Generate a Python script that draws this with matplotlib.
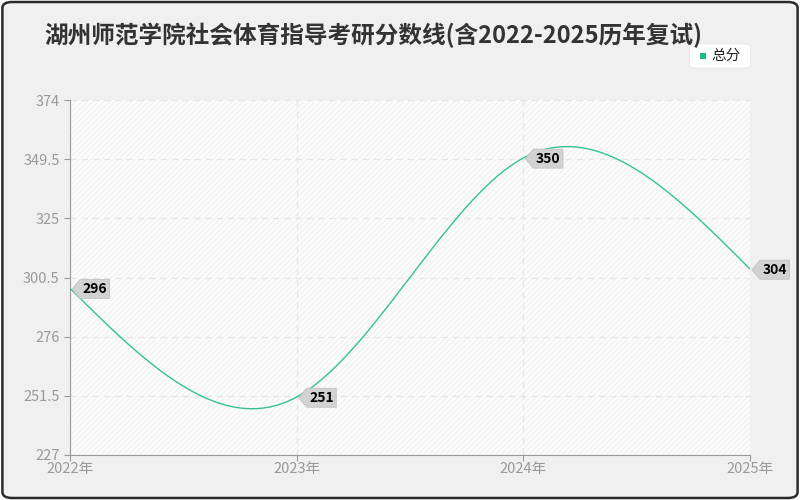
import numpy as np
import matplotlib
matplotlib.use('Agg')
import matplotlib.pyplot as plt
import matplotlib.patches as patches
from matplotlib.path import Path

plt.rcParams['font.family'] = ['Noto Sans CJK SC', 'DejaVu Sans']

# 数据
years = [2022, 2023, 2024, 2025]
scores = [296, 251, 350, 304]
year_labels = ['2022年', '2023年', '2024年', '2025年']
y_ticks = [227, 251.5, 276, 300.5, 325, 349.5, 374]
y_tick_labels = ['227', '251.5', '276', '300.5', '325', '349.5', '374']
title = '湖州师范学院社会体育指导考研分数线(含2022-2025历年复试)'
series_name = '总分'
line_color = '#35c28f'


def natural_spline(x, y, n=300):
    # 自然三次样条插值
    x = np.asarray(x, float)
    y = np.asarray(y, float)
    k = len(x)
    h = np.diff(x)
    A = np.zeros((k, k))
    r = np.zeros(k)
    A[0, 0] = A[-1, -1] = 1
    for i in range(1, k - 1):
        A[i, i - 1] = h[i - 1]
        A[i, i] = 2 * (h[i - 1] + h[i])
        A[i, i + 1] = h[i]
        r[i] = 6 * ((y[i + 1] - y[i]) / h[i] - (y[i] - y[i - 1]) / h[i - 1])
    M = np.linalg.solve(A, r)
    xs = np.linspace(x[0], x[-1], n)
    ys = np.empty_like(xs)
    for j, xv in enumerate(xs):
        i = min(np.searchsorted(x, xv, side='right') - 1, k - 2)
        t0 = x[i + 1] - xv
        t1 = xv - x[i]
        ys[j] = (M[i] * t0 ** 3 + M[i + 1] * t1 ** 3) / (6 * h[i]) \
            + (y[i] / h[i] - M[i] * h[i] / 6) * t0 \
            + (y[i + 1] / h[i] - M[i + 1] * h[i] / 6) * t1
    return xs, ys


class TagStyle:
    # 左侧带尖角的标签框
    def __init__(self, pad=2.5, tip=8.0):
        self.pad = pad
        self.tip = tip

    def __call__(self, x0, y0, width, height, mutation_size):
        p = self.pad
        x0, y0 = x0 - p, y0 - p
        x1, y1 = x0 + width + 2 * p, y0 + height + 2 * p
        ym = (y0 + y1) / 2
        verts = [(x0, y0), (x1, y0), (x1, y1), (x0, y1), (x0 - self.tip, ym), (x0, y0)]
        codes = [Path.MOVETO] + [Path.LINETO] * 4 + [Path.CLOSEPOLY]
        return Path(verts, codes)


fig = plt.figure(figsize=(8, 5), dpi=100, facecolor='white')
fig.patches.append(patches.FancyBboxPatch((0.003, 0.004), 0.994, 0.992,
                                          boxstyle='round,pad=0,rounding_size=0.012',
                                          transform=fig.transFigure, facecolor='#f0f0f0',
                                          edgecolor='#2a2a2a', linewidth=1.8, zorder=-10))

ax = fig.add_axes([0.0875, 0.09, 0.85, 0.71])
ax.set_facecolor('white')

# 斜线底纹
ax.add_patch(patches.Rectangle((0, 0), 1, 1, transform=ax.transAxes, facecolor='#fcfcfc',
                               edgecolor='#f2f2f2', hatch='//////', linewidth=0, zorder=0))

xs, ys = natural_spline(years, scores)
ax.plot(xs, ys, color=line_color, linewidth=1, zorder=3)

for x, y in zip(years, scores):
    ax.annotate(str(y), (x, y), xytext=(9, -0.5), textcoords='offset points',
                ha='left', va='center', fontsize=10, fontweight='bold', color='black',
                bbox=dict(boxstyle=TagStyle(), facecolor='#d2d2d2', edgecolor='#c2c2c2', linewidth=0.6),
                zorder=5, annotation_clip=False)

ax.set_xlim(2022, 2025)
ax.set_ylim(227, 374)
ax.set_xticks(years)
ax.set_xticklabels(year_labels)
ax.set_yticks(y_ticks)
ax.set_yticklabels(y_tick_labels)
ax.tick_params(colors='#999999', labelsize=10.5, length=4, width=0.8)
ax.tick_params(axis='x', pad=1)
ax.grid(True, linestyle=(0, (5, 4)), color='#e6e6e6', linewidth=0.9)
ax.set_axisbelow(True)
for side in ['top', 'right']:
    ax.spines[side].set_visible(False)
for side in ['left', 'bottom']:
    ax.spines[side].set_color('#999999')

fig.text(0.056, 0.93, title, fontsize=17, fontweight='bold', color='#333333', va='center', ha='left')

# 图例
leg_box = patches.FancyBboxPatch((0.866, 0.868), 0.068, 0.04, boxstyle='round,pad=0.004,rounding_size=0.008',
                                 transform=fig.transFigure, facecolor='white', edgecolor='#e8e8e8', linewidth=0.6)
fig.patches.append(leg_box)
fig.patches.append(patches.Rectangle((0.875, 0.883), 0.007, 0.011, transform=fig.transFigure,
                                     facecolor='#1dba8a', edgecolor='none'))
fig.text(0.889, 0.888, series_name, fontsize=10.5, color='#222222', va='center', ha='left')

fig.savefig('out.png', dpi=100, facecolor=fig.get_facecolor())
